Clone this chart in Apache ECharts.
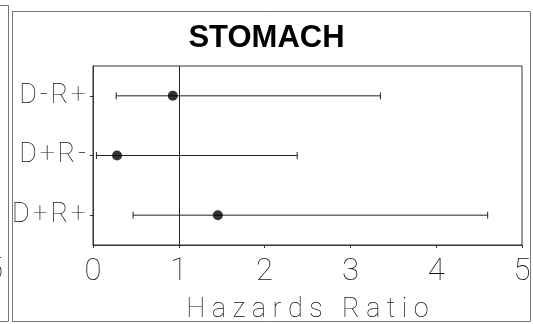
<!DOCTYPE html>
<html>
<head>
<meta charset="utf-8">
<script src="https://cdn.jsdelivr.net/npm/echarts@6/dist/echarts.min.js"></script>
<style>
  html, body { margin: 0; padding: 0; background: #fff; }
  #chart { width: 533px; height: 324px; }
</style>
</head>
<body>
<div id="chart"></div>
<script>
// Donor/recipient serostatus groups, top to bottom
const groups = ['D-R+', 'D+R-', 'D+R+'];
// Hazard ratio point estimates and confidence limits per group
const hazardRatio = [0.93, 0.28, 1.455];
const lowerLimit = [0.27, 0.04, 0.467];
const upperLimit = [3.35, 2.38, 4.60];
// Horizontal axis ticks
const xTicks = [0, 1, 2, 3, 4, 5];
const referenceValue = 1;
const titleText = 'STOMACH';
const axisTitle = 'Hazards Ratio';

// thin lettering for the axis texts
const strokeFont = "Roboto, 'DejaVu Sans Condensed', sans-serif";
const strokeWeight = 100;
const spaced = (s, gap) => s.split('').join(gap);

const chart = echarts.init(document.getElementById('chart'), null, { renderer: 'canvas' });

const intervalData = groups.map((g, i) => [i, lowerLimit[i], upperLimit[i]]);
const pointData = groups.map((g, i) => [hazardRatio[i], i]);

chart.setOption({
  animation: false,
  backgroundColor: '#fff',
  title: {
    text: titleText,
    left: 'center',
    top: 18,
    textStyle: { fontFamily: "'Liberation Sans', Arial, sans-serif", fontWeight: 'bold', fontSize: 31, color: '#000' }
  },
  grid: {
    left: 93, right: 11, top: 66, bottom: 79,
    outerBoundsMode: 'none',
    containLabel: false,
    show: true, borderColor: '#333', borderWidth: 1, backgroundColor: 'transparent'
  },
  xAxis: {
    type: 'value',
    min: xTicks[0],
    max: xTicks[xTicks.length - 1],
    interval: 1,
    splitLine: { show: false },
    axisLine: { show: true, lineStyle: { color: '#333', width: 1 } },
    axisTick: { show: true, length: 3, lineStyle: { color: '#333' } },
    axisLabel: {
      margin: 12,
      fontFamily: strokeFont,
      fontWeight: strokeWeight,
      fontSize: 31,
      color: '#111',
      formatter: v => String(v)
    },
    name: spaced(axisTitle, ' '),
    nameLocation: 'middle',
    nameGap: 52,
    nameTextStyle: { fontFamily: strokeFont, fontWeight: strokeWeight, fontSize: 27, color: '#111' }
  },
  yAxis: {
    type: 'category',
    data: groups,
    inverse: true,
    boundaryGap: true,
    splitLine: { show: false },
    axisLine: { show: true, lineStyle: { color: '#333', width: 1 } },
    axisTick: { show: true, alignWithLabel: true, length: 3, lineStyle: { color: '#333' } },
    axisLabel: {
      margin: 7,
      fontFamily: strokeFont,
      fontWeight: strokeWeight,
      fontSize: 27,
      color: '#111',
      formatter: v => spaced(v, '\u200A')
    }
  },
  series: [
    {
      type: 'custom',
      name: 'interval',
      data: intervalData,
      encode: { x: [1, 2], y: 0 },
      renderItem: (params, api) => {
        const cat = api.value(0);
        const a = api.coord([api.value(1), cat]);
        const b = api.coord([api.value(2), cat]);
        const cap = 3.5;
        const style = { stroke: '#222', lineWidth: 1 };
        return {
          type: 'group',
          children: [
            { type: 'line', shape: { x1: a[0], y1: a[1], x2: b[0], y2: b[1] }, style },
            { type: 'line', shape: { x1: a[0], y1: a[1] - cap, x2: a[0], y2: a[1] + cap }, style },
            { type: 'line', shape: { x1: b[0], y1: b[1] - cap, x2: b[0], y2: b[1] + cap }, style }
          ]
        };
      },
      z: 2
    },
    {
      type: 'scatter',
      name: 'hazard ratio',
      data: pointData,
      symbol: 'circle',
      symbolSize: 10,
      itemStyle: { color: '#000' },
      z: 3,
      markLine: {
        silent: true,
        symbol: 'none',
        label: { show: false },
        lineStyle: { color: '#222', width: 1, type: 'solid' },
        data: [{ xAxis: referenceValue }]
      }
    }
  ],
  graphic: [
    // frame of this panel
    { type: 'rect', shape: { x: 12.5, y: 11.5, width: 518, height: 310 }, style: { fill: 'none', stroke: '#777', lineWidth: 1 }, silent: true },
    // edge of the neighbouring panel on the left
    { type: 'polyline', shape: { points: [[0, 5.5], [8.5, 5.5], [8.5, 321.5], [0, 321.5]] }, style: { fill: 'none', stroke: '#777', lineWidth: 1 }, silent: true },
    { type: 'text', x: 3, y: 256, style: { text: '5', align: 'right', fontFamily: strokeFont, fontWeight: strokeWeight, fontSize: 31, fill: '#111' }, silent: true }
  ]
});
</script>
</body>
</html>
